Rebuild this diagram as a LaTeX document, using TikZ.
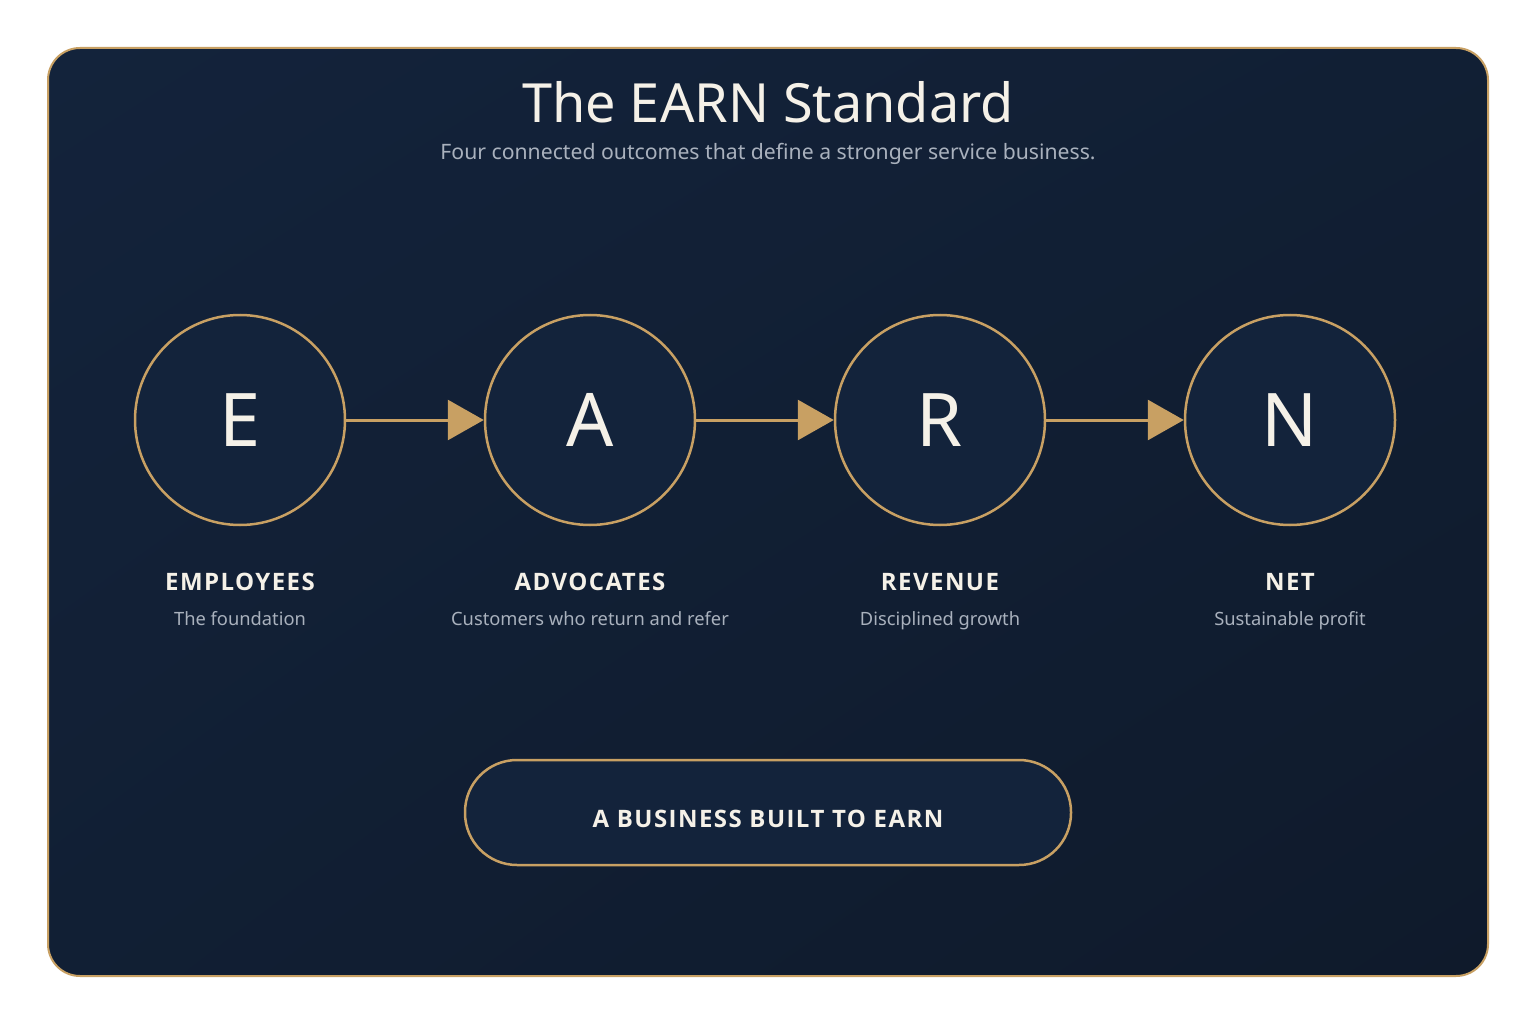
\documentclass[tikz,border=0pt]{standalone}
\usepackage{fontspec}
\setmainfont{Noto Sans}
\newfontfamily\capsfont[LetterSpace=6]{Open Sans}
\usetikzlibrary{arrows.meta}
\usetikzlibrary{positioning}
\usetikzlibrary{shadings}
\definecolor{bgtop}{HTML}{13233B}
\definecolor{bgbot}{HTML}{0F1A2B}
\definecolor{disc}{HTML}{13233B}
\definecolor{gold}{HTML}{C8A063}
\definecolor{cream}{HTML}{F5F1E8}
\definecolor{mist}{HTML}{A9B1BD}
\begin{document}
\begin{tikzpicture}[x=1pt,y=-1pt,
    stage/.style={circle, draw=gold, line width=2.5pt, fill=disc,
        minimum size=210pt, inner sep=0pt, text=cream,
        font=\fontsize{74}{74}\selectfont},
    flow/.style={draw=gold, line width=3pt,
        -{Triangle[length=36pt, width=40pt]}, shorten <=-1pt},
    heading/.style={anchor=base, text=cream,
        font=\capsfont\bfseries\fontsize{24}{24}\selectfont},
    note/.style={anchor=base, text=mist,
        font=\fontsize{18.3}{18.3}\selectfont}]
    \useasboundingbox (0,0) rectangle (1536,1024);
    \fill[white] (0,0) rectangle (1536,1024);
    % panel
    \shade[rounded corners=32pt, upper left=bgtop, lower right=bgbot,
        upper right=bgtop!55!bgbot, lower left=bgtop!55!bgbot]
        (48,48) rectangle (1488,976);
    \draw[gold, line width=2pt, rounded corners=32pt] (48,48) rectangle (1488,976);
    % title
    \node[anchor=base, text=cream, font=\fontsize{54}{54}\selectfont] (title)
        at (768,123) {The EARN Standard};
    \node[anchor=base, text=mist, font=\fontsize{21.2}{21.2}\selectfont] (sub)
        at (768,160) {Four connected outcomes that define a stronger service business.};
    % stages
    \node[stage] (e) at (240,420) {\raisebox{-0.31em}{E}};
    \node[stage] (a) at (590,420) {\raisebox{-0.31em}{A}};
    \node[stage] (r) at (940,420) {\raisebox{-0.31em}{R}};
    \node[stage] (n) at (1290,420) {\raisebox{-0.31em}{N}};
    \draw[flow] (e) -- (a);
    \draw[flow] (a) -- (r);
    \draw[flow] (r) -- (n);
    % labels
    \foreach \s/\word/\what in {e/EMPLOYEES/The foundation,
        a/ADVOCATES/Customers who return and refer,
        r/REVENUE/Disciplined growth,
        n/NET/Sustainable profit}{
        \node[heading] (\s word) at ([yshift=-170pt]\s.center) {\word};
        \node[note] (\s what) at ([yshift=-205pt]\s.center) {\what};
    }
    % motto
    \node[draw=gold, line width=2.5pt, fill=disc, rounded corners=52pt,
        minimum width=606pt, minimum height=105pt, text=cream,
        text height=29pt, text depth=0pt,
        font=\capsfont\bfseries\fontsize{24}{24}\selectfont] (motto)
        at (768,812.5) {A BUSINESS BUILT TO EARN};
\end{tikzpicture}
\end{document}
